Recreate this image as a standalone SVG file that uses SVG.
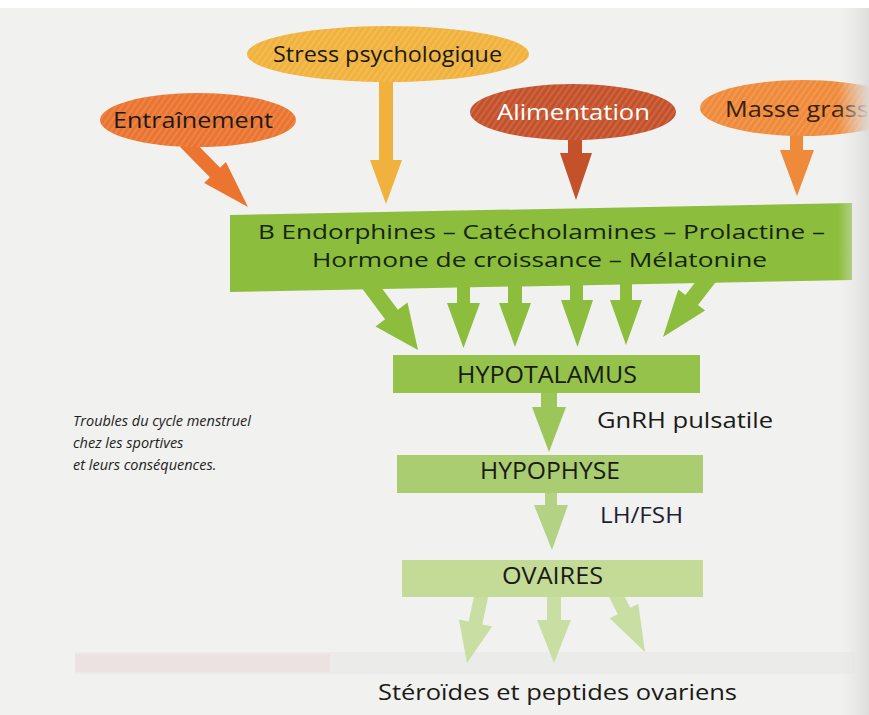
<svg xmlns="http://www.w3.org/2000/svg" width="869" height="715" viewBox="0 0 869 715">
<defs>
<style>
.t{font-family:"Open Sans","Noto Sans","DejaVu Sans",sans-serif;fill:#1a1a16;font-weight:500}
.lbl{font-size:22.5px}
.box{font-size:24px}
.cap{font-family:"Open Sans","Noto Sans","DejaVu Sans",sans-serif;font-style:italic;font-size:14.5px;fill:#222}
</style>
<linearGradient id="edge" x1="0" y1="0" x2="1" y2="0">
<stop offset="0" stop-color="#e9e9e7" stop-opacity="0"/>
<stop offset="1" stop-color="#dcdcda" stop-opacity="0.95"/>
</linearGradient>
<pattern id="hatch" width="5" height="5" patternUnits="userSpaceOnUse" patternTransform="rotate(35)">
<rect width="2" height="5" fill="#ffffff" fill-opacity="0.12"/>
</pattern>
</defs>
<rect width="869" height="715" fill="#f1f1ef"/>
<rect width="869" height="8" fill="#ffffff"/>
<rect x="75" y="652" width="780" height="22" fill="#e4e4e2" opacity="0.45"/>
<rect x="75" y="654" width="255" height="18" fill="#ecd6d6" opacity="0.45"/>

<g id="connectors">
<polygon fill="#f0b23c" points="379,75 393,75 393,160 402,160 386,204 370,160 379,160"/>
<polygon fill="#ea7430" points="190.1,137.2 220.1,167.7 225.9,162.1 248,207 204.2,182.9 209.9,177.3 179.9,146.8"/>
<polygon fill="#c4512a" points="568,130 582,130 582,153 592,153 576,200 560,153 568,153"/>
<polygon fill="#ef8a3a" points="790,130 803,130 803,150 814,150 797,196 780,150 790,150"/>
<g fill="#8dbd3c">
<polygon points="371,273.7 397.9,309.7 407.5,302.5 418,350 375.5,326.5 385.1,319.3 358.2,283.3"/>
<polygon points="457,280 470,280 470,303 480,303 463.5,348 447,303 457,303"/>
<polygon points="508,280 522,280 522,303 531,303 515,347 499,303 508,303"/>
<polygon points="570,275 583,275 583,300 593,300 577.5,347 561,300 570,300"/>
<polygon points="620,275 632,275 632,300 642,300 626,345 610,300 620,300"/>
<polygon points="722.5,273.3 698,304.9 705.1,310.4 663,337 678.3,289.6 685.4,295.1 709.9,263.5"/>
</g>
<polygon fill="#9cc65a" points="541,390 557,390 557,407 566,407 549,452 532,407 541,407"/>
<polygon fill="#b3d283" points="545,490 557,490 557,505 568,505 552,550 534,505 545,505"/>
<g fill="#c9dea3">
<polygon points="489.6,590.3 482.3,624.5 492.1,626.5 467,663 458.9,619.5 468.7,621.5 475.9,587.3"/>
<polygon points="547,595 561,595 561,620 571,620 554,663 537,620 547,620"/>
<polygon points="616.5,581.1 630.2,607.8 638.3,603.7 645,652 609.7,618.3 617.8,614.2 604.1,587.5"/>
</g>
</g>

<g id="stress">
<ellipse cx="388" cy="54" rx="141" ry="28" fill="#f0b23c"/>
<ellipse cx="388" cy="54" rx="141" ry="28" fill="url(#hatch)"/>
<text class="t lbl" x="273" y="62" textLength="229" lengthAdjust="spacingAndGlyphs">Stress psychologique</text>
</g>
<g id="entrainement">
<ellipse cx="198" cy="120" rx="98" ry="27" fill="#ea7430"/>
<ellipse cx="198" cy="120" rx="98" ry="27" fill="url(#hatch)"/>
<text class="t lbl" x="113" y="128" textLength="160" lengthAdjust="spacingAndGlyphs">Entraînement</text>
</g>
<g id="alimentation">
<ellipse cx="573" cy="112" rx="103" ry="28" fill="#c4512a"/>
<ellipse cx="573" cy="112" rx="103" ry="28" fill="url(#hatch)"/>
<text class="t lbl" x="497" y="120" textLength="153" lengthAdjust="spacingAndGlyphs" style="fill:#ffffff">Alimentation</text>
</g>
<g id="masse">
<ellipse cx="803" cy="108" rx="103" ry="28" fill="#ef8a3a"/>
<ellipse cx="803" cy="108" rx="103" ry="28" fill="url(#hatch)"/>
<text class="t lbl" x="725" y="117" textLength="158" lengthAdjust="spacingAndGlyphs" style="fill:#3a2210">Masse grasse</text>
</g>

<g id="hormones">
<polygon points="230,215 852,203 852,280 230,292" fill="#8dbd3c"/>
<text class="t" style="font-size:20px;fill:#15250e" x="258" y="239" textLength="567" lengthAdjust="spacingAndGlyphs">B Endorphines – Catécholamines – Prolactine –</text>
<text class="t" style="font-size:20px;fill:#15250e" x="312" y="266.5" textLength="455" lengthAdjust="spacingAndGlyphs">Hormone de croissance – Mélatonine</text>
</g>

<g id="hypotalamus">
<rect x="393" y="355" width="307" height="38" fill="#94c24a"/>
<text class="t box" x="457" y="382.5" textLength="180" lengthAdjust="spacingAndGlyphs">HYPOTALAMUS</text>
</g>
<g id="gnrh">
<text class="t lbl" x="597" y="428" textLength="176" lengthAdjust="spacingAndGlyphs">GnRH pulsatile</text>
</g>
<g id="hypophyse">
<rect x="397" y="455" width="306" height="38" fill="#a9cd70"/>
<text class="t box" x="480" y="479" textLength="140" lengthAdjust="spacingAndGlyphs">HYPOPHYSE</text>
</g>
<g id="lhfsh">
<text class="t lbl" x="600" y="523" textLength="83" lengthAdjust="spacingAndGlyphs" style="fill:#1e1e36">LH/FSH</text>
</g>
<g id="ovaires">
<rect x="402" y="560" width="301" height="37" fill="#c3db96"/>
<text class="t box" x="502" y="584" textLength="101" lengthAdjust="spacingAndGlyphs">OVAIRES</text>
</g>
<g id="steroides">
<text class="t lbl" x="378" y="700" textLength="359" lengthAdjust="spacingAndGlyphs">Stéroïdes et peptides ovariens</text>
</g>
<g id="caption">
<text class="cap" x="73" y="426">Troubles du cycle menstruel</text>
<text class="cap" x="73" y="448">chez les sportives</text>
<text class="cap" x="73" y="470">et leurs conséquences.</text>
</g>
<rect x="838" y="8" width="31" height="707" fill="url(#edge)"/>
</svg>
